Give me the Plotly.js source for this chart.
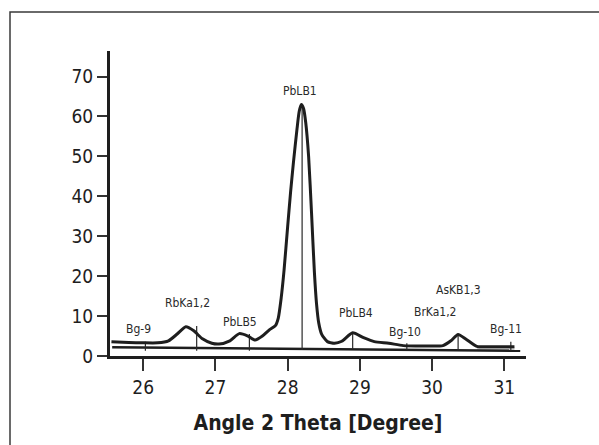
<!DOCTYPE html>
<html>
<head>
<meta charset="utf-8">
<script src="https://cdn.plot.ly/plotly-3.0.1.min.js"></script>
<style>
html,body{margin:0;padding:0;background:#fff;}
#chart{width:599px;height:445px;}
</style>
</head>
<body>
<div id="chart"></div>
<script>
// Spectrum curve (Angle 2 Theta vs intensity)
const angle = [25.56, 25.8, 26.0, 26.2, 26.35, 26.47, 26.59, 26.7, 26.82, 26.95, 27.05, 27.2, 27.33, 27.45, 27.55, 27.65, 27.75, 27.83, 27.87, 27.91, 27.95, 28.0, 28.04, 28.08, 28.13, 28.16, 28.19, 28.22, 28.25, 28.29, 28.33, 28.37, 28.4, 28.43, 28.47, 28.55, 28.65, 28.75, 28.9, 29.05, 29.2, 29.4, 29.6, 29.9, 30.15, 30.26, 30.36, 30.47, 30.62, 30.8, 31.14];
const intensity = [3.6, 3.4, 3.3, 3.3, 3.8, 5.5, 7.3, 6.3, 4.3, 3.2, 3.0, 3.8, 5.6, 5.0, 4.0, 5.0, 6.6, 7.6, 9.5, 14.5, 21.5, 32.5, 41, 48.5, 57, 61.3, 63, 62, 58.5, 50, 36, 21, 13, 8.3, 5.5, 3.6, 3.2, 3.7, 5.8, 4.6, 3.6, 3.2, 2.6, 2.5, 2.6, 3.8, 5.4, 4.2, 2.4, 2.3, 2.3];

// Background baseline
const baseAngle = [25.57, 31.22];
const baseIntensity = [2.2, 1.3];

// Peak / background markers
const peakNames = ["Bg-9", "RbKa1,2", "PbLB5", "PbLB1", "PbLB4", "Bg-10", "BrKa1,2", "AsKB1,3", "Bg-11"];
const labelAngle = [25.94, 26.61, 27.34, 28.17, 28.94, 29.62, 30.05, 30.37, 31.02];
const labelIntensity = [6.7, 13.4, 8.6, 66.5, 10.7, 5.9, 10.95, 16.5, 6.7];
const markerAngle = [26.03, 26.74, 27.47, 28.2, 28.9, 29.65, 30.36, 31.09];
const markerTop = [3.6, 7.5, 5.5, 62.9, 5.8, 3.2, 5.4, 3.6];
const markerBottom = [1.3, 1.3, 1.3, 1.5, 1.7, 1.5, 1.5, 1.3];

// Shaded tail region
const tailAngle = [30.62, 31.14];
const tailCurve = [2.3, 2.3];
const tailBase = [1.55, 1.38];

const xTicks = [26, 27, 28, 29, 30, 31];
const yTicks = [0, 10, 20, 30, 40, 50, 60, 70];

const FONT = "'Liberation Sans Narrow', 'DejaVu Sans Condensed', 'Arial Narrow', sans-serif";
const INK = '#1e1e1e';

const mx = [], my = [];
markerAngle.forEach((a, i) => { mx.push(a, a, null); my.push(markerBottom[i], markerTop[i], null); });

const traces = [
  {x: tailAngle, y: tailBase, mode: 'lines', line: {width: 0, color: 'rgba(0,0,0,0)'}, hoverinfo: 'skip', showlegend: false},
  {x: tailAngle, y: tailCurve, mode: 'lines', fill: 'tonexty', fillcolor: '#c8c8c8', line: {width: 0, color: 'rgba(0,0,0,0)'}, hoverinfo: 'skip', showlegend: false},
  {x: baseAngle, y: baseIntensity, mode: 'lines', line: {color: INK, width: 2.5}, showlegend: false},
  {x: mx, y: my, mode: 'lines', line: {color: '#2a2a2a', width: 1.2}, connectgaps: false, showlegend: false},
  {x: angle, y: intensity, mode: 'lines', line: {color: INK, width: 3, shape: 'spline', smoothing: 0.6}, showlegend: false}
];

const annotations = peakNames.map((n, i) => ({
  x: labelAngle[i], y: labelIntensity[i], xref: 'x', yref: 'y', text: n, showarrow: false,
  font: {family: FONT, size: 12, color: '#2a2a2a'}, xanchor: 'center', yanchor: 'middle'
}));

const layout = {
  width: 599, height: 445,
  margin: {l: 110, r: 73, t: 51, b: 89},
  paper_bgcolor: '#fff', plot_bgcolor: '#fff',
  showlegend: false,
  font: {family: FONT, color: INK},
  xaxis: {
    range: [25.54, 31.30], tickvals: xTicks, ticktext: xTicks.map(String),
    showline: true, linewidth: 3, linecolor: INK, mirror: false,
    ticks: 'outside', ticklen: 12, tickwidth: 2, tickcolor: '#333',
    showgrid: false, zeroline: false,
    tickfont: {family: FONT, size: 19, color: INK},
    title: {text: '<b>Angle 2 Theta [Degree]</b>', font: {family: FONT, size: 21, color: INK}, standoff: 19}
  },
  yaxis: {
    range: [0, 76.4], tickvals: yTicks, ticktext: yTicks.map(String),
    showline: true, linewidth: 3, linecolor: INK,
    ticks: 'outside', ticklen: 10, tickwidth: 2, tickcolor: '#333',
    showgrid: false, zeroline: false,
    tickfont: {family: FONT, size: 19, color: INK}
  },
  annotations: annotations,
  shapes: [{
    type: 'rect', xref: 'paper', yref: 'paper',
    x0: (10 - 110) / 416, x1: (610 - 110) / 416,
    y0: (356 - 455) / 305, y1: (356 - 12) / 305,
    line: {color: '#3a3a3a', width: 1.5}, fillcolor: 'rgba(0,0,0,0)', layer: 'below'
  }]
};

Plotly.newPlot('chart', traces, layout, {displayModeBar: false, staticPlot: true});
</script>
</body>
</html>
